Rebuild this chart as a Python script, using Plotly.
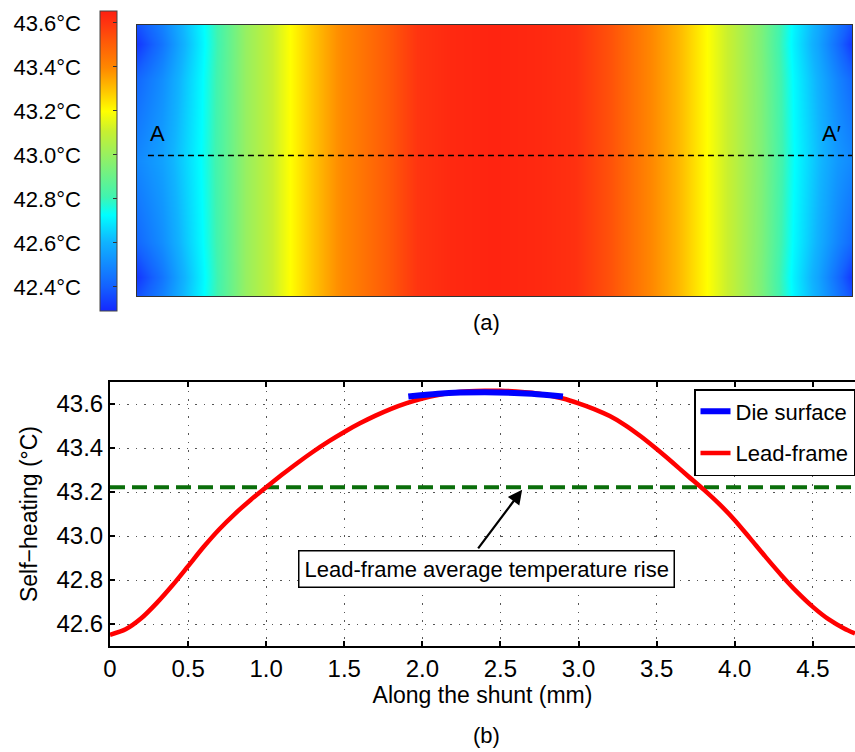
import plotly.graph_objects as go

FONT = "Liberation Sans, Arial, Helvetica, sans-serif"
W, H = 855, 752
FS = 22

# ---------------- (a) surface temperature map ----------------
# column positions along A-A' (mm) and the mid-line temperature at each
map_pos_mm = [0.00, 0.17, 0.31, 0.43, 0.57, 0.73, 0.89, 1.02, 1.15, 1.33, 1.51, 1.69,
              1.87, 2.09, 2.38, 2.69, 2.92, 3.16, 3.42, 3.60, 3.80, 3.98, 4.16, 4.38,
              4.54, 4.67, 4.77]
map_mid_temp = [42.50, 42.56, 42.65, 42.73, 42.85, 43.00, 43.10, 43.20, 43.28, 43.38, 43.45, 43.52,
                43.60, 43.63, 43.645, 43.63, 43.61, 43.53, 43.40, 43.32, 43.20, 43.08, 42.95, 42.73,
                42.62, 42.54, 42.50]
# extra cooling near the ends of the strip: strength per row, weight per column
map_rows = [0.0, 0.07, 0.2, 0.5, 0.8, 0.93, 1.0]
row_cooling = [0.13, 0.18, 0.08, 0.0, 0.08, 0.18, 0.13]
col_weight = [1.0, 0.6, 0.3, 0.15, 0.05, 0, 0, 0, 0, 0, 0, 0,
              0, 0, 0, 0, 0, 0, 0, 0, 0, 0, 0.05, 0.15,
              0.3, 0.6, 1.0]
map_z = [[t - rc * w for t, w in zip(map_mid_temp, col_weight)] for rc in row_cooling]

cmin, cmax = 42.292, 43.655
cbar_ticks = [42.4, 42.6, 42.8, 43.0, 43.2, 43.4, 43.6]
cbar_text = [f"{v:.1f}°C" for v in cbar_ticks]

jet_like = [
    [0.00, "#1428ff"], [0.08, "#1460ff"], [0.23, "#10b4ff"], [0.32, "#00ffff"],
    [0.38, "#40f4b0"], [0.52, "#98f060"], [0.60, "#c8f030"], [0.666, "#ffff00"],
    [0.74, "#ffc000"], [0.81, "#ff8800"], [0.90, "#ff5808"], [0.96, "#ff3410"],
    [1.00, "#ff2010"],
]

# ---------------- (b) profile along the shunt ----------------
shunt_mm = [0.0, 0.1, 0.2, 0.3, 0.4, 0.5, 0.6, 0.7, 0.8, 0.9, 1.0, 1.1, 1.2, 1.3, 1.4, 1.5,
            1.6, 1.7, 1.8, 1.9, 2.0, 2.1, 2.2, 2.3, 2.4, 2.5, 2.6, 2.7, 2.8, 2.9, 3.0, 3.1,
            3.2, 3.3, 3.4, 3.5, 3.6, 3.7, 3.8, 3.9, 4.0, 4.1, 4.2, 4.3, 4.4, 4.5, 4.6, 4.7, 4.77]
lead_frame = [42.551, 42.576, 42.626, 42.696, 42.776, 42.863, 42.951, 43.031, 43.101, 43.164,
              43.222, 43.278, 43.332, 43.383, 43.430, 43.473, 43.512, 43.547, 43.578, 43.604,
              43.625, 43.641, 43.652, 43.658, 43.660, 43.660, 43.657, 43.651, 43.640, 43.625,
              43.603, 43.577, 43.545, 43.503, 43.452, 43.395, 43.335, 43.273, 43.212, 43.146,
              43.072, 42.988, 42.903, 42.821, 42.745, 42.678, 42.622, 42.580, 42.557]
die_mm = [1.91, 2.1, 2.4, 2.7, 2.9]
die_surface = [43.634, 43.647, 43.653, 43.647, 43.634]
avg_rise = 43.222

x_ticks = [0, 0.5, 1.0, 1.5, 2.0, 2.5, 3.0, 3.5, 4.0, 4.5]
x_ticktext = ["0", "0.5", "1.0", "1.5", "2.0", "2.5", "3.0", "3.5", "4.0", "4.5"]
y_ticks = [42.6, 42.8, 43.0, 43.2, 43.4, 43.6]

fig = go.Figure()

fig.add_trace(go.Heatmap(
    x=map_pos_mm, y=map_rows, z=map_z, xaxis="x", yaxis="y",
    colorscale=jet_like, zmin=cmin, zmax=cmax, zsmooth="best", hoverinfo="skip",
    colorbar=dict(
        x=100 / W, xanchor="left", y=1 - 10.7 / H, yanchor="top",
        len=300 / H, lenmode="fraction", thickness=17, thicknessmode="pixels",
        xpad=0, ypad=0, outlinewidth=1, outlinecolor="#444",
        tickvals=cbar_ticks, ticks="inside", ticklen=4, tickcolor="#333",
        showticklabels=False,
    ),
))

# invisible carrier for the colour-bar labels axis
fig.add_trace(go.Scatter(
    x=[0] * len(cbar_ticks), y=cbar_ticks, xaxis="x3", yaxis="y3",
    mode="markers", marker=dict(opacity=0), hoverinfo="skip", showlegend=False,
))

fig.add_trace(go.Scatter(
    x=[0, 4.77], y=[avg_rise, avg_rise], xaxis="x2", yaxis="y2", mode="lines",
    line=dict(color="#0a6e0a", width=4, dash="15px,7px"),
    showlegend=False, hoverinfo="skip",
))
fig.add_trace(go.Scatter(
    x=shunt_mm, y=lead_frame, xaxis="x2", yaxis="y2", mode="lines",
    line=dict(color="#ff0000", width=4.5, shape="spline", smoothing=0.8),
    name="Lead-frame", legendgroup="lead", legendrank=2,
))
fig.add_trace(go.Scatter(
    x=die_mm, y=die_surface, xaxis="x2", yaxis="y2", mode="lines",
    line=dict(color="#0000ff", width=6, shape="spline", smoothing=0.8),
    name="Die surface", legendgroup="die", legendrank=1,
))

hidden_axis = dict(showticklabels=False, ticks="", showgrid=False, zeroline=False,
                   showline=True, mirror=True, linecolor="#333", linewidth=1,
                   automargin=False)
tick_font = dict(family=FONT, size=24, color="black")
title_font = dict(family=FONT, size=23, color="black")

fig.update_layout(
    template="none",
    width=W, height=H,
    margin=dict(l=0, r=0, t=0, b=0, autoexpand=False),
    paper_bgcolor="white", plot_bgcolor="white",
    font=dict(family=FONT, size=FS, color="black"),
    xaxis=dict(domain=[137 / W, 852 / W], range=[0, 4.77], anchor="y", **hidden_axis),
    yaxis=dict(domain=[1 - 296 / H, 1 - 25 / H], range=[0, 1], anchor="x", **hidden_axis),
    xaxis3=dict(domain=[0, 0.05], visible=False, range=[-1, 1], anchor="y3",
                automargin=False),
    yaxis3=dict(domain=[1 - 311 / H, 1 - 10.7 / H], range=[cmin, cmax], anchor="free",
                position=81 / W, side="left", showline=False, showgrid=False, zeroline=False,
                ticks="", tickvals=cbar_ticks, ticktext=cbar_text,
                tickfont=dict(family=FONT, size=FS, color="black"), automargin=False),
    xaxis2=dict(
        domain=[110 / W, 1], range=[0, 4.77], anchor="y2", automargin=False,
        tickvals=x_ticks, ticktext=x_ticktext, tickfont=tick_font,
        ticks="inside", ticklen=5, tickwidth=1.5, tickcolor="black",
        showline=True, linewidth=2, linecolor="black", mirror="ticks",
        showgrid=True, gridcolor="#555", gridwidth=1, griddash="1.5px,7px", zeroline=False,
        title=dict(text="Along the shunt (mm)", standoff=6, font=title_font),
    ),
    yaxis2=dict(
        domain=[1 - 646 / H, 1 - 382 / H], range=[42.5, 43.7], anchor="x2", automargin=False,
        tickvals=y_ticks, tickformat=".1f", tickfont=tick_font,
        ticks="inside", ticklen=5, tickwidth=1.5, tickcolor="black",
        showline=True, linewidth=2, linecolor="black", mirror=False,
        showgrid=True, gridcolor="#555", gridwidth=1, griddash="1.5px,7px", zeroline=False,
        title=dict(text="Self−heating (°C)", standoff=12, font=title_font),
    ),
    legend=dict(
        x=1, xanchor="right", y=1 - 389 / H, yanchor="top",
        bgcolor="white", bordercolor="black", borderwidth=1.5,
        font=dict(family=FONT, size=FS, color="black"),
        traceorder="grouped", tracegroupgap=10,
    ),
    showlegend=True,
)

# A - A' section line across the map
fig.add_shape(type="line", xref="x", yref="y", x0=0.073, x1=4.77, y0=0.518, y1=0.518,
              line=dict(color="black", width=1.5, dash="6px,4px"))
fig.add_annotation(x=0.14, y=0.60, xref="x", yref="y", text="A", showarrow=False,
                   font=dict(size=FS))
fig.add_annotation(x=4.63, y=0.60, xref="x", yref="y", text="A′", showarrow=False,
                   font=dict(size=FS))

# average-rise callout
fig.add_annotation(x=2.409, y=42.851, xref="x2", yref="y2",
                   text="Lead-frame average temperature rise", showarrow=False,
                   bgcolor="white", bordercolor="black", borderwidth=1.5, borderpad=5,
                   font=dict(size=FS))
fig.add_annotation(x=2.639, y=43.21, xref="x2", yref="y2", ax=2.35, ay=42.937,
                   axref="x2", ayref="y2", text="", showarrow=True,
                   arrowhead=2, arrowsize=1.3, arrowwidth=2.2, arrowcolor="black")

# panel captions
fig.add_annotation(x=487 / W, y=1 - 322 / H, xref="paper", yref="paper", text="(a)",
                   xanchor="center", yanchor="middle", showarrow=False, font=dict(size=FS))
fig.add_annotation(x=487 / W, y=1 - 735 / H, xref="paper", yref="paper", text="(b)",
                   xanchor="center", yanchor="middle", showarrow=False, font=dict(size=FS))

fig.write_html("out.html")
